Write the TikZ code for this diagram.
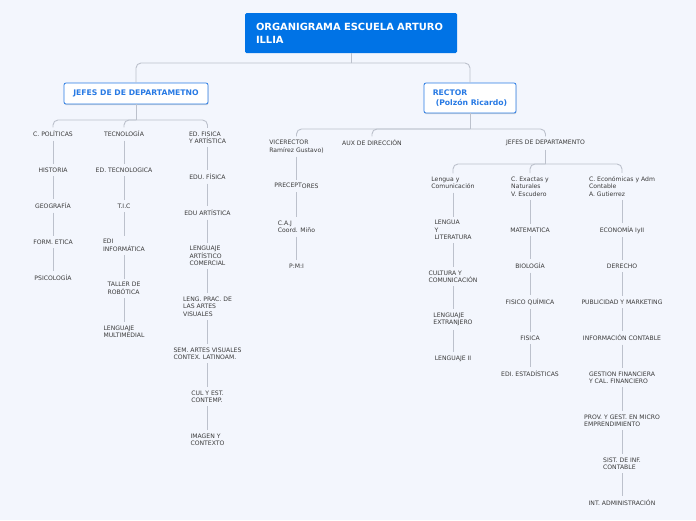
\documentclass[tikz,border=0pt]{standalone}
\usepackage{fontspec}
\setmainfont{DejaVu Sans}
\usetikzlibrary{shadows}
\definecolor{bg}{RGB}{243,246,253}
\definecolor{titleblue}{RGB}{0,115,230}
\definecolor{boxblue}{RGB}{40,122,228}
\definecolor{conncol}{RGB}{188,193,204}
\definecolor{txt}{RGB}{58,58,58}
\tikzset{
  conn/.style={draw=conncol, line width=0.9pt, rounded corners=5pt},
  item/.style={font=\fontsize{6.1}{7.4}\selectfont, text=txt, align=left, inner sep=3.5pt},
  titlebox/.style={fill=titleblue, rounded corners=1.5pt, text=white, align=left,
    font=\fontsize{9.9}{13}\selectfont\bfseries, text width=190pt, inner xsep=11pt,
    minimum height=40pt},
  subbox/.style={fill=white, draw=boxblue, line width=0.8pt, rounded corners=2pt,
    text=boxblue, font=\fontsize{7.7}{10}\selectfont\bfseries, align=left,
    drop shadow={shadow xshift=0.4pt, shadow yshift=-1.2pt, fill=black!25, opacity=0.6}}
}
\begin{document}
\begin{tikzpicture}[x=1pt,y=-1pt]
\fill[bg] (0,0) rectangle (696,520);
\useasboundingbox (0,0) rectangle (696,520);

% main
\node[titlebox] (title) at (351,33) {ORGANIGRAMA ESCUELA ARTURO\\ILLIA};
\node[subbox, minimum width=144pt, minimum height=21pt] (jefes) at (136,93.5) {JEFES DE DE DEPARTAMETNO};
\node[subbox, minimum width=92pt, minimum height=30pt] (rector) at (470,98) {RECTOR\\\hspace*{3pt}(Polzón Ricardo)};

% left subtree
\node[item] (cpol) at (53,134) {C. POLÍTICAS};
\node[item] (hist) at (53,170) {HISTORIA};
\node[item] (geo) at (53,206) {GEOGRAFÍA};
\node[item] (form) at (53,242) {FORM. ETICA};
\node[item] (psi) at (53,278) {PSICOLOGÍA};

\node[item] (tec) at (124,134) {TECNOLOGÍA};
\node[item] (edtec) at (124,170) {ED. TECNOLOGICA};
\node[item] (tic) at (124,206) {T.I.C};
\node[item] (edi) at (124,245.5) {EDI\\INFORMÁTICA};
\node[item] (tal) at (124,288.5) {TALLER DE\\ROBÓTICA};
\node[item] (lmul) at (124,331.5) {LENGUAJE\\MULTIMEDIAL};

\node[item] (edf) at (207.5,137.5) {ED. FISICA\\Y ARTÍSTICA};
\node[item] (eduf) at (207.5,177) {EDU. FÍSICA};
\node[item] (edua) at (207.5,213) {EDU ARTÍSTICA};
\node[item] (lac) at (207.5,256) {LENGUAJE\\ARTÍSTICO\\COMERCIAL};
\node[item] (lpr) at (207.5,306.5) {LENG. PRAC. DE\\LAS ARTES\\VISUALES};
\node[item] (sem) at (207.5,353.5) {SEM. ARTES VISUALES\\CONTEX. LATINOAM.};
\node[item] (cul) at (207.5,396.5) {CUL Y EST.\\CONTEMP.};
\node[item] (img) at (207.5,439.5) {IMAGEN Y\\CONTEXTO};

% rector subtree
\node[item] (vice) at (296.5,146.5) {VICERECTOR\\Ramírez Gustavo)};
\node[item] (prec) at (296.5,186) {PRECEPT\raisebox{-0.8pt}{ORES}};
\node[item] (caj) at (296.5,227) {C.A.J\\Coord. Miño};
\node[item] (pmi) at (296.5,266) {P:M:I};
\node[item] (aux) at (372,143) {AUX DE DIRECCIÓN};
\node[item] (jdep) at (545.5,143) {JEFES DE DEPARTAMENTO};

\node[item] (lyc) at (453,183) {Lengua y\\Comunicación};
\node[item] (lyl) at (453,230) {LENGUA\\Y\\LITERATURA};
\node[item] (cyc) at (453,276.5) {CULTURA Y\\COMUNICACIÓN};
\node[item] (lext) at (453,319.5) {LENGUAJE\\EXTRANJERO};
\node[item] (l2) at (453,359) {LENGUAJE II};

\node[item] (cex) at (530,186.5) {C. Exactas y\\Naturales\\V. Escudero};
\node[item] (mat) at (530,230) {MATEMATICA};
\node[item] (bio) at (530,266) {BIOLOGÍA};
\node[item] (fq) at (530,302) {FISICO QUÍMICA};
\node[item] (fis) at (530,338) {FISICA};
\node[item] (est) at (530,374) {EDI. ESTADÍSTICAS};

\node[item] (cec) at (622,186.5) {C. Económicas y Adm\\Contable\\A. Gutierrez};
\node[item] (eco) at (622,230) {ECONOMÍA IyII};
\node[item] (der) at (622,266) {DERECHO};
\node[item] (pub) at (622,302) {PUBLICIDAD Y MARKETING};
\node[item] (inf) at (622,338) {INFORMACIÓN CONTABLE};
\node[item] (gest) at (622,377.5) {GESTION FINANCIERA\\Y CAL. FINANCIERO};
\node[item] (prov) at (622,420.5) {PROV. Y GEST. EN MICRO\\EMPRENDIMIENTO};
\node[item] (sist) at (622,463.5) {SIST. DE INF.\\CONTABLE};
\node[item] (intad) at (622,503) {INT. ADMINISTRACIÓN};

% connectors: tree
\coordinate (j0) at (351,63);
\draw[conn] (title.south) -- (j0);
\draw[conn] (j0) -| (jefes.north);
\draw[conn] (j0) -| (rector.north);

\coordinate (j1) at (136,120);
\draw[conn] (jefes.south) -- (j1);
\foreach \c in {cpol,tec,edf} \draw[conn] (j1) -| (\c.north);

\coordinate (j2) at (470,129);
\draw[conn] (rector.south) -- (j2);
\foreach \c in {vice,aux,jdep} \draw[conn] (j2) -| (\c.north);

\coordinate (j3) at (545.5,164);
\draw[conn] (jdep.south) -- (j3);
\foreach \c in {lyc,cex,cec} \draw[conn] (j3) -| (\c.north);

% chains
\foreach \a/\b in {cpol/hist,hist/geo,geo/form,form/psi,
  tec/edtec,edtec/tic,tic/edi,edi/tal,tal/lmul,
  edf/eduf,eduf/edua,edua/lac,lac/lpr,lpr/sem,sem/cul,cul/img,
  vice/prec,prec/caj,caj/pmi,
  lyc/lyl,lyl/cyc,cyc/lext,lext/l2,
  cex/mat,mat/bio,bio/fq,fq/fis,fis/est,
  cec/eco,eco/der,der/pub,pub/inf,inf/gest,gest/prov,prov/sist,sist/intad}
  \draw[conn] (\a.south) -- (\b.north);
\end{tikzpicture}
\end{document}
